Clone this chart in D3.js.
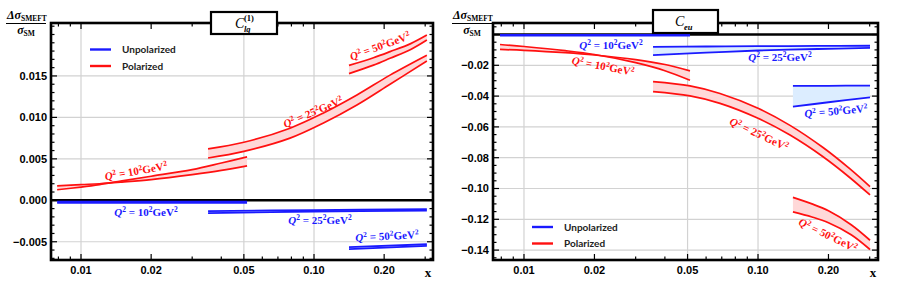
<!DOCTYPE html>
<html><head><meta charset="utf-8">
<script src="https://cdn.jsdelivr.net/npm/d3@7"></script>
<style>body{margin:0;background:#fff}</style>
</head><body><svg id="c" width="900" height="291" xmlns="http://www.w3.org/2000/svg"></svg>
<script>
// ---------------- DATA ----------------
const xTickValues = [0.01, 0.02, 0.05, 0.1, 0.2];
const xTickLabels = ["0.01", "0.02", "0.05", "0.10", "0.20"];
const xGridValues = [0.01, 0.05, 0.1];
const xMinorTicks = [0.008, 0.009, 0.03, 0.04, 0.06, 0.07, 0.08, 0.09, 0.3];

const lqYTicks = [-0.005, 0, 0.005, 0.010, 0.015];
const lqYTickLabels = ["\u22120.005", "0.000", "0.005", "0.010", "0.015"];
const euYTicks = [-0.14, -0.12, -0.10, -0.08, -0.06, -0.04, -0.02];
const euYTickLabels = ["\u22120.14", "\u22120.12", "\u22120.10", "\u22120.08", "\u22120.06", "\u22120.04", "\u22120.02"];

const legendLabels = ["Unpolarized", "Polarized"];
const qLabels = ["10", "25", "50"];

// Left panel: C_lq^(1)
const lqUnpol10X = [0.0079, 0.0516];
const lqUnpol10A = [-0.00015, -0.00015];
const lqUnpol10B = [-0.0003, -0.0003];
const lqUnpol25X = [0.0351, 0.1, 0.305];
const lqUnpol25A = [-0.0013, -0.00118, -0.00108];
const lqUnpol25B = [-0.00155, -0.00135, -0.00125];
const lqUnpol50X = [0.1413, 0.305];
const lqUnpol50A = [-0.00565, -0.0053];
const lqUnpol50B = [-0.0059, -0.0055];

const lqPol10X = [0.0079, 0.01, 0.012, 0.015, 0.02, 0.03, 0.04, 0.0516];
const lqPol10A = [0.00127, 0.0016, 0.0019, 0.00235, 0.0029, 0.0037, 0.0045, 0.00524];
const lqPol10B = [0.00175, 0.0019, 0.0020, 0.0022, 0.0025, 0.0031, 0.0036, 0.00416];
const lqPol25X = [0.0351, 0.05, 0.0789, 0.1093, 0.1528, 0.212, 0.305];
const lqPol25A = [0.0062, 0.0070, 0.0087, 0.0105, 0.0127, 0.0151, 0.0175];
const lqPol25B = [0.0051, 0.0059, 0.0075, 0.0093, 0.0115, 0.0140, 0.0168];
const lqPol50X = [0.1413, 0.18, 0.212, 0.26, 0.305];
const lqPol50A = [0.01627, 0.0172, 0.01793, 0.0189, 0.01993];
const lqPol50B = [0.01528, 0.0163, 0.01713, 0.0182, 0.01934];

// Right panel: C_eu
const euUnpol10X = [0.0079, 0.0512];
const euUnpol10A = [-0.0002, -0.0002];
const euUnpol10B = [-0.0007, -0.0007];
const euUnpol25X = [0.0356, 0.06, 0.1, 0.18, 0.301];
const euUnpol25A = [-0.0080, -0.0078, -0.0076, -0.0074, -0.0073];
const euUnpol25B = [-0.0134, -0.0118, -0.0104, -0.0094, -0.0087];
const euUnpol50X = [0.141, 0.2, 0.301];
const euUnpol50A = [-0.0334, -0.0333, -0.0332];
const euUnpol50B = [-0.0469, -0.0440, -0.0408];

const euPol10X = [0.0079, 0.01, 0.015, 0.02, 0.03, 0.04, 0.0512];
const euPol10A = [-0.0065, -0.0078, -0.0105, -0.0130, -0.0183, -0.0235, -0.0297];
const euPol10B = [-0.0097, -0.0103, -0.0118, -0.0133, -0.0163, -0.0195, -0.0236];
const euPol25X = [0.0356, 0.0512, 0.0688, 0.1, 0.137, 0.1896, 0.2471, 0.301];
const euPol25A = [-0.0306, -0.0334, -0.0383, -0.0479, -0.0590, -0.0734, -0.0873, -0.0988];
const euPol25B = [-0.0371, -0.0399, -0.0447, -0.0544, -0.0653, -0.0794, -0.0930, -0.1042];
const euPol50X = [0.141, 0.17, 0.2, 0.25, 0.301];
const euPol50A = [-0.1058, -0.1100, -0.1145, -0.1235, -0.1336];
const euPol50B = [-0.1152, -0.1185, -0.1222, -0.1300, -0.1396];

// ---------------- STYLE ----------------
const RED = "#ff1010", PINK = "#ffd8d8", BLUE = "#1a1aff", LBLUE = "#dcedff";
const SANS = "'Liberation Sans', Arial, sans-serif";
const SERIF = "'Liberation Serif', 'Times New Roman', serif";
const LEG = "Lato, 'Open Sans', sans-serif";

const svg = d3.select("#c");

function zipBand(xs, a, b) { return xs.map((x, i) => ({x, a: a[i], b: b[i]})); }

function qLabel(g, q, color, cx, cy, angle) {
  const t = g.append("text")
    .attr("transform", `translate(${cx},${cy}) rotate(${angle})`)
    .attr("text-anchor", "middle").attr("dy", "0.35em")
    .attr("font-family", SERIF).attr("font-weight", "bold").attr("font-size", 11)
    .attr("fill", color);
  t.append("tspan").attr("font-style", "italic").text("Q");
  t.append("tspan").attr("font-size", 7.5).attr("baseline-shift", "super").text("2");
  t.append("tspan").text(" = " + q);
  t.append("tspan").attr("font-size", 7.5).attr("baseline-shift", "super").text("2");
  t.append("tspan").text("GeV");
  t.append("tspan").attr("font-size", 7.5).attr("baseline-shift", "super").text("2");
}

function panel(cfg) {
  const x = d3.scaleLog().domain(cfg.xDomain).range([cfg.left, cfg.right]);
  const y = d3.scaleLinear().domain(cfg.yDomain).range([cfg.bottom, cfg.top]);
  const g = svg.append("g");
  const clipId = "clip" + cfg.id;
  svg.append("clipPath").attr("id", clipId).append("rect")
    .attr("x", cfg.left).attr("y", cfg.top).attr("width", cfg.right - cfg.left).attr("height", cfg.bottom - cfg.top);

  // grid
  g.selectAll(".vg").data(xGridValues).join("line")
    .attr("x1", d => x(d)).attr("x2", d => x(d)).attr("y1", cfg.top).attr("y2", cfg.bottom)
    .attr("stroke", "#d2d2d2").attr("stroke-width", 1.2);
  g.selectAll(".hg").data(cfg.yTicks.filter(v => v !== 0)).join("line")
    .attr("x1", cfg.left).attr("x2", cfg.right).attr("y1", d => y(d)).attr("y2", d => y(d))
    .attr("stroke", "#d2d2d2").attr("stroke-width", 1.2);

  // zero axis
  g.append("line").attr("x1", cfg.left).attr("x2", cfg.right).attr("y1", y(0)).attr("y2", y(0))
    .attr("stroke", "#000").attr("stroke-width", 2.4);

  // bands
  const sg = g.append("g").attr("clip-path", `url(#${clipId})`);
  const crv = d3.curveCatmullRom.alpha(0.5);
  const area = d3.area().x(d => x(d.x)).y0(d => y(d.a)).y1(d => y(d.b)).curve(crv);
  const lineA = d3.line().x(d => x(d.x)).y(d => y(d.a)).curve(crv);
  const lineB = d3.line().x(d => x(d.x)).y(d => y(d.b)).curve(crv);
  cfg.bands.forEach(b => {
    const data = zipBand(b.x, b.a, b.b);
    sg.append("path").datum(data).attr("d", area).attr("fill", b.fill).attr("stroke", "none");
    sg.append("path").datum(data).attr("d", lineA).attr("fill", "none").attr("stroke", b.color).attr("stroke-width", b.w);
    sg.append("path").datum(data).attr("d", lineB).attr("fill", "none").attr("stroke", b.color).attr("stroke-width", b.w);
  });

  // frame
  g.append("rect").attr("x", cfg.left).attr("y", cfg.top)
    .attr("width", cfg.right - cfg.left).attr("height", cfg.bottom - cfg.top)
    .attr("fill", "none").attr("stroke", "#000").attr("stroke-width", 2.6);

  // y ticks (major + minor), inward on left & right
  const yMinor = d3.range(Math.ceil(cfg.yDomain[0] / cfg.yMinorStep), Math.floor(cfg.yDomain[1] / cfg.yMinorStep) + 1)
    .map(k => k * cfg.yMinorStep);
  const isMajor = v => cfg.yTicks.some(t => Math.abs(t - v) < cfg.yMinorStep / 10);
  [cfg.left, cfg.right].forEach((xx, side) => {
    const dir = side === 0 ? 1 : -1;
    g.selectAll(null).data(yMinor).join("line")
      .attr("x1", xx).attr("x2", d => xx + dir * (isMajor(d) ? 6 : 3.5))
      .attr("y1", d => y(d)).attr("y2", d => y(d))
      .attr("stroke", "#000").attr("stroke-width", 1.2);
  });
  // x ticks inward on bottom & top
  [cfg.bottom, cfg.top].forEach((yy, side) => {
    const dir = side === 0 ? -1 : 1;
    g.selectAll(null).data(xTickValues.concat(xMinorTicks).filter(v => v >= cfg.xDomain[0] && v <= cfg.xDomain[1])).join("line")
      .attr("x1", d => x(d)).attr("x2", d => x(d))
      .attr("y1", yy).attr("y2", d => yy + dir * (xTickValues.includes(d) ? 6 : 3.5))
      .attr("stroke", "#000").attr("stroke-width", 1.2);
  });

  // tick labels
  g.selectAll(null).data(cfg.yTicks).join("text")
    .attr("x", cfg.left - 4).attr("y", d => y(d)).attr("dy", "0.36em")
    .attr("text-anchor", "end").attr("font-family", SANS).attr("font-weight", "bold").attr("font-size", 11)
    .text((d, i) => cfg.yTickLabels[i]);
  g.selectAll(null).data(xTickValues).join("text")
    .attr("x", d => x(d)).attr("y", 274)
    .attr("text-anchor", "middle").attr("font-family", SANS).attr("font-weight", "bold").attr("font-size", 11)
    .text((d, i) => xTickLabels[i]);
  g.append("text").attr("x", cfg.right - 5).attr("y", 277).attr("text-anchor", "middle")
    .attr("font-family", SERIF).attr("font-weight", "bold").attr("font-size", 13).text("x");

  // y-axis title
  const tx = cfg.titleX;
  const t1 = g.append("text").attr("x", tx + 1).attr("y", 19).attr("font-family", SERIF)
    .attr("font-weight", "bold").attr("font-size", 12);
  t1.append("tspan").attr("font-style", "italic").text("\u0394\u03c3");
  t1.append("tspan").attr("font-size", 7.5).attr("dy", 2).text("SMEFT");
  g.append("line").attr("x1", tx).attr("x2", tx + 40).attr("y1", 23.5).attr("y2", 23.5)
    .attr("stroke", "#000").attr("stroke-width", 1);
  const t2 = g.append("text").attr("x", tx + 20).attr("y", 34).attr("text-anchor", "middle")
    .attr("font-family", SERIF).attr("font-weight", "bold").attr("font-size", 12);
  t2.append("tspan").attr("font-style", "italic").text("\u03c3");
  t2.append("tspan").attr("font-size", 7.5).attr("dy", 2).text("SM");

  // title box
  const bx = cfg.box;
  g.append("rect").attr("x", bx.x).attr("y", bx.y).attr("width", bx.w).attr("height", bx.h)
    .attr("fill", "#fff").attr("stroke", "#000").attr("stroke-width", 2.2);
  g.append("text").attr("x", bx.cx).attr("y", bx.y + 16).attr("font-family", SERIF)
    .attr("font-style", "italic").attr("font-size", 14).text("C");
  g.append("text").attr("x", bx.cx + 9).attr("y", bx.y + 19.5).attr("font-family", SERIF)
    .attr("font-style", "italic").attr("font-weight", "bold").attr("font-size", 8.5).text(bx.sub);
  if (bx.sup) g.append("text").attr("x", bx.cx + 9).attr("y", bx.y + 9).attr("font-family", SERIF)
    .attr("font-weight", "bold").attr("font-size", 8.5).text(bx.sup);

  // legend
  const lg = cfg.legend;
  [BLUE, RED].forEach((c, i) => {
    g.append("line").attr("x1", lg.x).attr("x2", lg.x + 21).attr("y1", lg.y + i * 16.5).attr("y2", lg.y + i * 16.5)
      .attr("stroke", c).attr("stroke-width", 2.4);
    g.append("text").attr("x", lg.x + 32).attr("y", lg.y + i * 16.5).attr("dy", "0.35em")
      .attr("font-family", LEG).attr("font-weight", "bold").attr("font-size", 10).attr("fill", "#222")
      .text(legendLabels[i]);
  });

  // band labels
  cfg.labels.forEach(l => qLabel(g, l.q, l.c, l.x, l.y, l.a));
}

panel({
  id: "L", left: 51, right: 433, top: 23, bottom: 260,
  xDomain: [0.007434, 0.3241], yDomain: [-0.00720, 0.021386],
  yTicks: lqYTicks, yTickLabels: lqYTickLabels, yMinorStep: 0.001, titleX: 6,
  box: {x: 211, y: 12, w: 66, h: 22, cx: 235, sub: "lq", sup: "(1)"},
  legend: {x: 90, y: 49.5},
  bands: [
    {x: lqUnpol10X, a: lqUnpol10A, b: lqUnpol10B, color: BLUE, fill: LBLUE, w: 1.8},
    {x: lqUnpol25X, a: lqUnpol25A, b: lqUnpol25B, color: BLUE, fill: LBLUE, w: 1.8},
    {x: lqUnpol50X, a: lqUnpol50A, b: lqUnpol50B, color: BLUE, fill: LBLUE, w: 1.8},
    {x: lqPol10X, a: lqPol10A, b: lqPol10B, color: RED, fill: PINK, w: 1.7},
    {x: lqPol25X, a: lqPol25A, b: lqPol25B, color: RED, fill: PINK, w: 1.7},
    {x: lqPol50X, a: lqPol50A, b: lqPol50B, color: RED, fill: PINK, w: 1.7}
  ],
  labels: [
    {q: qLabels[0], c: RED, x: 136, y: 171, a: -10},
    {q: qLabels[1], c: RED, x: 313, y: 112, a: -23},
    {q: qLabels[2], c: RED, x: 380, y: 46, a: -20},
    {q: qLabels[0], c: BLUE, x: 146, y: 212, a: 0},
    {q: qLabels[1], c: BLUE, x: 320, y: 220, a: 0},
    {q: qLabels[2], c: BLUE, x: 387, y: 236, a: -3}
  ]
});

panel({
  id: "R", left: 493, right: 878, top: 23, bottom: 260,
  xDomain: [0.007372, 0.3256], yDomain: [-0.14643, 0.00747],
  yTicks: euYTicks.concat([0]), yTickLabels: euYTickLabels.concat([""]), yMinorStep: 0.005, titleX: 452,
  box: {x: 653, y: 10, w: 65, h: 23, cx: 675, sub: "eu", sup: null},
  legend: {x: 532, y: 227},
  bands: [
    {x: euUnpol10X, a: euUnpol10A, b: euUnpol10B, color: BLUE, fill: LBLUE, w: 1.8},
    {x: euUnpol25X, a: euUnpol25A, b: euUnpol25B, color: BLUE, fill: LBLUE, w: 1.8},
    {x: euUnpol50X, a: euUnpol50A, b: euUnpol50B, color: BLUE, fill: LBLUE, w: 1.8},
    {x: euPol10X, a: euPol10A, b: euPol10B, color: RED, fill: PINK, w: 1.7},
    {x: euPol25X, a: euPol25A, b: euPol25B, color: RED, fill: PINK, w: 1.7},
    {x: euPol50X, a: euPol50A, b: euPol50B, color: RED, fill: PINK, w: 1.7}
  ],
  labels: [
    {q: qLabels[0], c: BLUE, x: 611, y: 45, a: 0},
    {q: qLabels[1], c: BLUE, x: 780, y: 57, a: 0},
    {q: qLabels[2], c: BLUE, x: 836, y: 111, a: -5},
    {q: qLabels[0], c: RED, x: 603, y: 66, a: 11},
    {q: qLabels[1], c: RED, x: 759, y: 134, a: 25},
    {q: qLabels[2], c: RED, x: 828, y: 235, a: 26}
  ]
});
</script>
</body></html>
